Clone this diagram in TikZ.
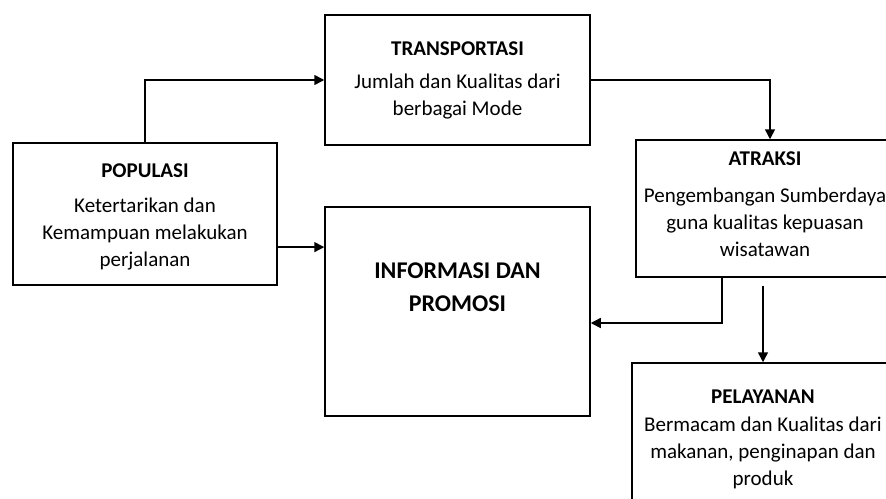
\documentclass[tikz,border=0pt]{standalone}
\usepackage{fontspec}
\setmainfont{Carlito}
\usetikzlibrary{arrows.meta}

\tikzset{box/.style={draw,inner sep=0pt},
  txt/.style={align=center,font=\fontsize{21}{27}\selectfont}}

\begin{document}
\begin{tikzpicture}[x=1pt,y=-1pt,line width=1.5pt,>={Triangle[length=10pt,width=10pt]}]
  \clip (0,0) rectangle (886,498);
  % boxes
  \node[box,minimum width=265,minimum height=130] (trans) at (457.5,80) {};
  \node[box,minimum width=264,minimum height=142] (pop) at (145,214) {};
  \node[box,minimum width=265,minimum height=209] (info) at (457.5,311.5) {};
  \node[box,minimum width=258,minimum height=137] (atr) at (765,208.5) {};
  \node[box,minimum width=262,minimum height=177] (pel) at (763,451.5) {};
  % texts
  \node[txt] (transtxt) at (457.5,80) {\textbf{TRANSPORTASI}\\[6pt] Jumlah dan Kualitas dari\\ berbagai Mode};
  \node[txt] (poptxt) at (145,217) {\textbf{POPULASI}\\[8pt] Ketertarikan dan\\ Kemampuan melakukan\\ perjalanan};
  \node[txt,font=\fontsize{24}{33}\selectfont\bfseries] (infotxt) at (457.5,287) {INFORMASI DAN\\ PROMOSI};
  \node[txt] (atrtxt) at (765,204) {\textbf{ATRAKSI}\\[10pt] Pengembangan Sumberdaya\\ guna kualitas kepuasan\\ wisatawan};
  \node[txt] (peltxt) at (763,439) {\textbf{PELAYANAN}\\[1pt] Bermacam dan Kualitas dari\\ makanan, penginapan dan\\ produk};
  % connectors
  \coordinate (gap) at ([yshift=-8pt]atr.south);
  \draw[->] (pop.north) |- (trans.west);
  \draw[->] (pop.-14.4) -- (pop.-14.4 -| info.west);
  \draw[->] (trans.east) -| ([xshift=5pt]atr.north);
  \draw[->] ([xshift=-43pt]atr.south) |- ([yshift=-11.5pt]info.east);
  \draw[->] (gap -| pel.north) -- (pel.north);
\end{tikzpicture}
\end{document}
